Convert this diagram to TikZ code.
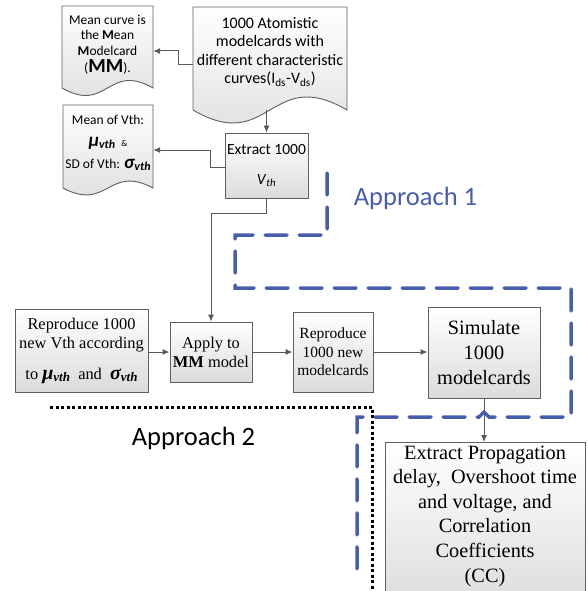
\documentclass[tikz,border=0pt]{standalone}
\usepackage{fontspec}
\setmainfont{Liberation Serif}
\newfontfamily\calfont{Carlito}
\usetikzlibrary{arrows.meta,calc}
\definecolor{edgegray}{RGB}{95,95,95}
\definecolor{appblue}{RGB}{72,94,172}
\newcommand\subbi[2]{\raisebox{-2.5pt}{\fontsize{#1}{#1}\selectfont\bfseries\itshape #2}}
\tikzset{
 box/.style={draw=edgegray, line width=0.9pt, top color=white, bottom color=black!14, align=center, inner sep=0pt},
 docshape/.style={draw=edgegray, line width=0.9pt, top color=white, bottom color=black!14},
 holder/.style={inner sep=0pt},
 conn/.style={draw=black!65, line width=1pt},
 arr/.style={conn, -{Latex[length=7pt,width=6pt]}},
 blued/.style={draw=appblue, line width=3.5pt, dash pattern=on 22pt off 12pt, line cap=round},
 blackdot/.style={draw=black, line width=3pt, dash pattern=on 3pt off 2.5pt},
 apptext/.style={font=\calfont\fontsize{26.5}{26.5}\selectfont, anchor=base, inner sep=0pt},
}
\begin{document}
\begin{tikzpicture}[x=1pt,y=-1pt]
\useasboundingbox (0,0) rectangle (588,591);
% document shapes
\path[docshape] (62,6) -- (153,6) -- (153,88) .. controls (107.5,62) and (107.5,114) .. (62,88) -- cycle;
\path[docshape] (193,7) -- (347,7) -- (347,110) .. controls (270,65) and (270,155) .. (193,110) -- cycle;
\path[docshape] (63,105) -- (153,105) -- (153,188) .. controls (108,164) and (108,212) .. (63,188) -- cycle;
\node[holder, minimum width=91pt, minimum height=82pt] (doc1) at (107.5,47) {};
\node[holder, minimum width=154pt, minimum height=103pt] (doc2) at (270,58.5) {};
\node[holder, minimum width=90pt, minimum height=83pt] (doc3) at (108,146.5) {};
\node[align=center, font=\calfont\fontsize{13.5}{15.5}\selectfont] (doc1t) at (107.5,45) {Mean curve is\\the \textbf{M}ean\\\textbf{M}odelcard\\[2pt](\textbf{\fontsize{20}{20}\selectfont MM}).};
\node[align=center, font=\calfont\fontsize{16}{18.5}\selectfont] (doc2t) at (270,52) {1000 Atomistic\\modelcards with\\different characteristic\\curves(I\textsubscript{ds}-V\textsubscript{ds})};
\node[align=center, font=\calfont\fontsize{13.5}{22}\selectfont] (doc3t) at (108,143) {Mean of Vth:\\{\fontsize{19}{19}\selectfont\bfseries\itshape μ}\subbi{12}{vth}\ \ {\fontsize{9}{9}\selectfont\&}\\SD of Vth: {\fontsize{19}{19}\selectfont\bfseries\itshape σ}\subbi{12}{vth}};
% boxes
\node[box, minimum width=83pt, minimum height=65pt, font=\calfont\fontsize{15.5}{19}\selectfont] (ext) at (266.5,165.5) {Extract 1000\\[11pt]\textit{V}\textsubscript{\textit{th}}};
\node[box, minimum width=133pt, minimum height=83pt, font=\fontsize{16.4}{19}\selectfont] (rv) at (81.5,350.5) {Reproduce 1000\\new Vth according\\[12pt]to {\fontsize{20}{20}\selectfont\bfseries\itshape μ}\subbi{13}{vth}\ \ and\ \ {\fontsize{20}{20}\selectfont\bfseries\itshape σ}\subbi{13}{vth}};
\node[box, minimum width=82pt, minimum height=60pt, font=\fontsize{16.4}{19}\selectfont] (apply) at (211,352) {Apply to\\\textbf{MM} model};
\node[box, minimum width=80pt, minimum height=80pt, font=\fontsize{15.5}{18.5}\selectfont] (rm) at (333,352) {Reproduce\\1000 new\\modelcards};
\node[box, minimum width=112pt, minimum height=91pt, font=\fontsize{20.3}{25}\selectfont] (sim) at (484,352.5) {Simulate\\1000\\modelcards};
\node[box, minimum width=200pt, minimum height=170pt, anchor=north] (prop) at (485,442) {};
\node[align=center, font=\fontsize{20.3}{24.6}\selectfont] (propt) at (485,516) {Extract Propagation\\delay,~ Overshoot time\\and voltage, and\\Correlation\\Coefficients\\(CC)};
% connectors
\draw[arr] (doc2.west |- 0,65) -- (178,65) |- (doc1.east |- 0,51);
\draw[arr] (ext.north |- doc2.south) -- (ext.north);
\draw[arr] (ext.west |- 0,167) -- (210,167) |- (doc3.east |- 0,150);
\draw[arr] (ext.south) -- ++(0,15) -| (apply.north);
\draw[arr] (rv.east |- apply.west) -- (apply.west);
\draw[arr] (apply.east) -- (rm.west);
\draw[arr] (rm.east) -- (sim.west |- rm.east);
\draw[arr] (sim.south) -- (sim.south |- prop.north);
% approach outlines
\draw[blued] (327,173) -- (327,235) -- (235,235) -- (235,288) -- (571,288) -- (571,417) -- (489,417) -- (484,412) -- (479,417) -- (357,417) -- (357,575);
\draw[blackdot] (50,407) -- (372,407) -- (372,596);
\node[apptext, text=appblue] (ap1) at (415.5,205) {Approach 1};
\node[apptext, text=black] (ap2) at (193.5,445) {Approach 2};
\end{tikzpicture}
\end{document}
